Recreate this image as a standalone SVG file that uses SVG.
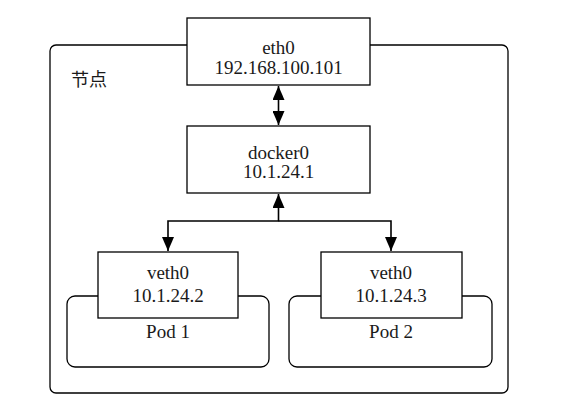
<svg xmlns="http://www.w3.org/2000/svg" width="586" height="414" viewBox="0 0 586 414">
<style>
.box{fill:#fff;stroke:#000;stroke-width:1.3}
.frame{fill:none;stroke:#000;stroke-width:1.3}
.t{font-family:"Liberation Serif","DejaVu Serif",serif;font-size:19px;fill:#1a1a1a;text-anchor:middle}
.cjk{font-family:"Liberation Serif","Noto Sans CJK SC",serif;font-size:18px;fill:#1a1a1a}
.ln{fill:none;stroke:#000;stroke-width:1.6}
</style>
<defs>
<marker id="ah" viewBox="0 0 14 12" refX="14" refY="6" markerWidth="14" markerHeight="12" markerUnits="userSpaceOnUse" orient="auto-start-reverse">
<path d="M0,0 L14,6 L0,12 Z" fill="#000"/>
</marker>
</defs>
<rect width="586" height="414" fill="#fff"/>
<g id="node-frame">
<rect class="frame" x="50" y="45" width="458" height="348" rx="6"/>
<text class="cjk" x="71" y="86">节点</text>
</g>
<g id="pod1">
<rect class="frame" x="67" y="296" width="202" height="71" rx="8"/>
<text class="t" x="168" y="338">Pod 1</text>
</g>
<g id="pod2">
<rect class="frame" x="289" y="296" width="203" height="71" rx="8"/>
<text class="t" x="391" y="338">Pod 2</text>
</g>
<g id="eth0">
<rect class="box" x="187" y="18" width="183" height="67"/>
<text class="t" x="278.5" y="54">eth0</text>
<text class="t" x="278.5" y="74">192.168.100.101</text>
</g>
<g id="docker0">
<rect class="box" x="187" y="126" width="183" height="67"/>
<text class="t" x="278.5" y="159">docker0</text>
<text class="t" x="278.5" y="178">10.1.24.1</text>
</g>
<g id="veth1">
<rect class="box" x="98" y="252" width="140" height="66"/>
<text class="t" x="168" y="279">veth0</text>
<text class="t" x="168" y="302">10.1.24.2</text>
</g>
<g id="veth2">
<rect class="box" x="321" y="252" width="141" height="66"/>
<text class="t" x="391" y="279">veth0</text>
<text class="t" x="391" y="302">10.1.24.3</text>
</g>
<g id="connectors">
<line class="ln" x1="278.5" y1="86" x2="278.5" y2="125" marker-start="url(#ah)" marker-end="url(#ah)"/>
<polyline class="ln" points="278.5,194 278.5,221 168,221 168,251" marker-start="url(#ah)" marker-end="url(#ah)"/>
<polyline class="ln" points="278.5,221 391,221 391,251" marker-end="url(#ah)"/>
</g>
</svg>
